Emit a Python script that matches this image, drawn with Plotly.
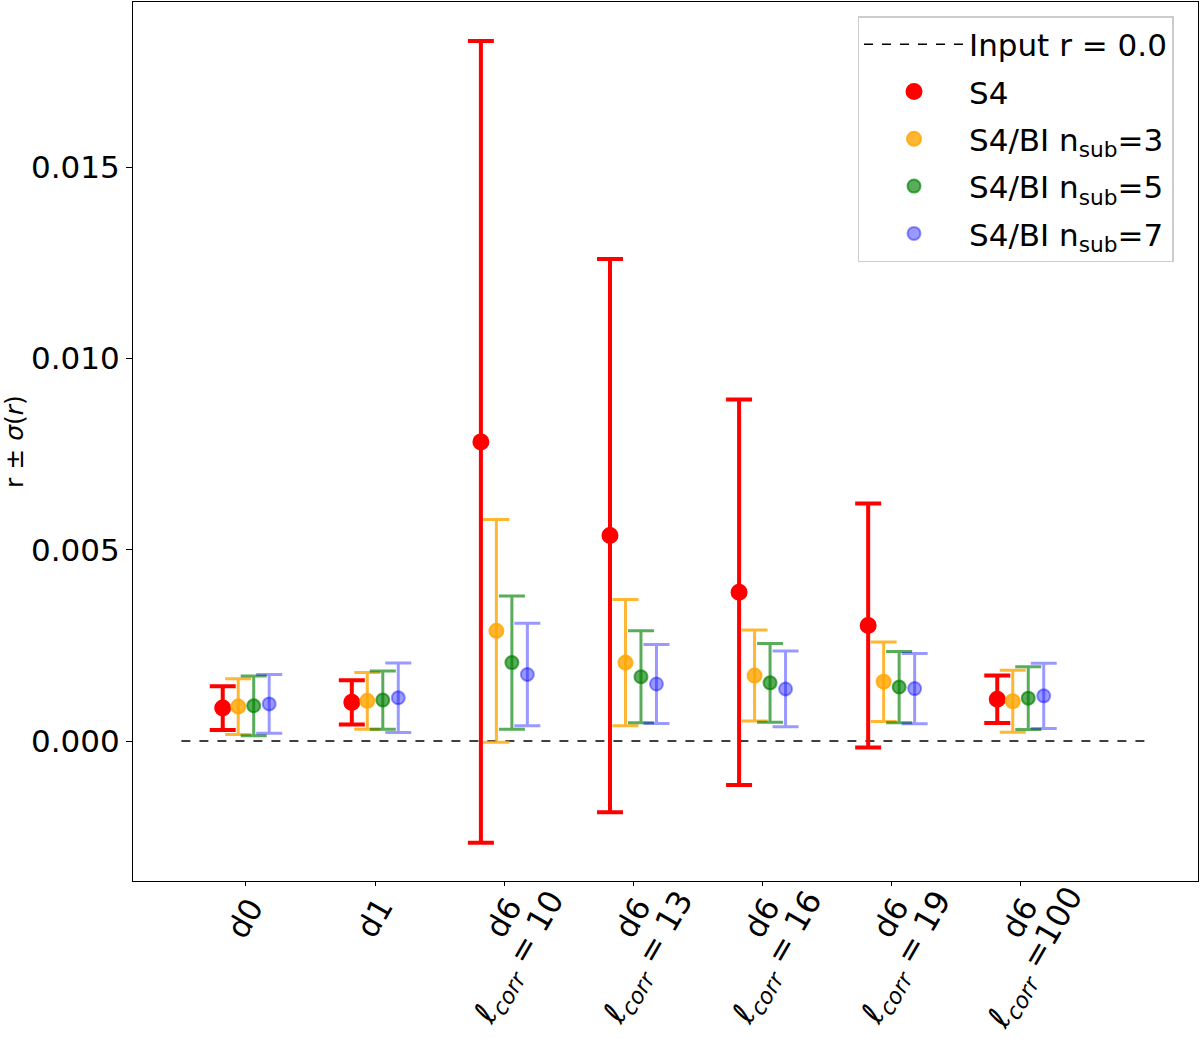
import plotly.graph_objects as go

# categories on the x axis, label split into two lines for the d6 runs
categories = ["d0", "d1", "d6 l10", "d6 l13", "d6 l16", "d6 l19", "d6 l100"]
label_top = ["d0", "d1", "d6", "d6", "d6", "d6", "d6"]
label_bottom = ["", "",
                "<i>ℓ<sub>corr</sub></i> = 10",
                "<i>ℓ<sub>corr</sub></i> = 13",
                "<i>ℓ<sub>corr</sub></i> = 16",
                "<i>ℓ<sub>corr</sub></i> = 19",
                "<i>ℓ<sub>corr</sub></i> =100"]

# r and sigma(r) per configuration
r_s4 = [0.00086, 0.00101, 0.00782, 0.00537, 0.00389, 0.00302, 0.00109]
sig_s4 = [0.00057, 0.00058, 0.01048, 0.00723, 0.00504, 0.00319, 0.00062]

r_n3 = [0.00090, 0.00105, 0.00288, 0.00205, 0.00171, 0.00155, 0.00104]
sig_n3 = [0.00073, 0.00074, 0.00291, 0.00165, 0.00119, 0.00104, 0.00081]

r_n5 = [0.00092, 0.00107, 0.00205, 0.00168, 0.00152, 0.00141, 0.00112]
sig_n5 = [0.00078, 0.00076, 0.00174, 0.00120, 0.00103, 0.00093, 0.00082]

r_n7 = [0.00097, 0.00113, 0.00174, 0.00149, 0.00136, 0.00137, 0.00118]
sig_n7 = [0.00077, 0.00091, 0.00134, 0.00103, 0.00099, 0.00092, 0.00085]

input_r = 0.0

series = [
    ("S4", r_s4, sig_s4, "rgb(255,0,0)", -0.18, 4, 15),
    ("S4/BI n<sub>sub</sub>=3", r_n3, sig_n3, "rgba(255,165,0,0.8)", -0.06, 3, 14),
    ("S4/BI n<sub>sub</sub>=5", r_n5, sig_n5, "rgba(0,128,0,0.65)", 0.06, 3, 13),
    ("S4/BI n<sub>sub</sub>=7", r_n7, sig_n7, "rgba(0,0,255,0.4)", 0.18, 3, 13),
]

fig = go.Figure()

fig.add_trace(go.Scatter(
    x=[-0.5, len(categories)], y=[input_r, input_r],
    mode="lines", line=dict(color="black", width=1.5, dash="dash"),
    name="Input r = 0.0", legendgroup="g0"))

for k, (name, vals, errs, color, offset, lw, ms) in enumerate(series):
    xs = [i + offset for i in range(len(categories))]
    fig.add_trace(go.Scatter(
        x=xs, y=vals, mode="markers", name=name, legendgroup="g%d" % (k + 1),
        marker=dict(color=color, size=ms, line=dict(color=color, width=2)),
        error_y=dict(type="data", array=errs, visible=True,
                     color=color, thickness=lw, width=13)))

# rotated category labels under the axis
for i in range(len(categories)):
    fig.add_annotation(
        x=i, y=0, xref="x", yref="paper", text=label_top[i],
        showarrow=False, textangle=-60, xanchor="center", yanchor="middle",
        xshift=-1, yshift=-37, font=dict(size=31, color="black"))
    if label_bottom[i]:
        fig.add_annotation(
            x=i, y=0, xref="x", yref="paper", text=label_bottom[i],
            showarrow=False, textangle=-60, xanchor="center", yanchor="middle",
            xshift=16, yshift=-77, font=dict(size=32, color="black"))

fig.update_layout(
    width=1200, height=1039,
    paper_bgcolor="white", plot_bgcolor="white",
    font=dict(family="DejaVu Sans", size=31, color="black"),
    margin=dict(l=133, r=2, t=2, b=158, autoexpand=False),
    showlegend=True,
    legend=dict(x=0.977, y=0.984, xanchor="right", yanchor="top",
                bordercolor="#cccccc", borderwidth=1.5, bgcolor="white",
                font=dict(size=31), itemwidth=100, traceorder="grouped",
                tracegroupgap=4),
    xaxis=dict(range=[-0.875, 7.375], tickvals=list(range(len(categories))),
               ticktext=[""] * len(categories), showgrid=False,
               zeroline=False, showline=True, linecolor="black", mirror=True,
               ticks="outside", ticklen=4, tickcolor="black",
               automargin=False),
    yaxis=dict(range=[-0.00366, 0.01932], tickvals=[0, 0.005, 0.010, 0.015],
               ticktext=["0.000", "0.005", "0.010", "0.015"],
               showgrid=False, zeroline=False, showline=True,
               linecolor="black", mirror=True, ticks="outside", ticklen=6,
               tickcolor="black", automargin=False,
               title=dict(text="r ± <i>σ</i>(<i>r</i>)", font=dict(size=25),
                          standoff=14)),
)

fig.write_html("out.html", config={"displayModeBar": False},
               post_script="document.body.style.margin='0';")
